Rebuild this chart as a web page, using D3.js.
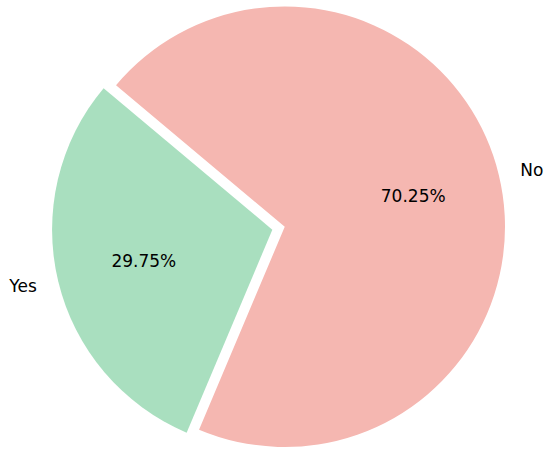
<!DOCTYPE html>
<html>
<head>
<meta charset="utf-8">
<script src="https://cdn.jsdelivr.net/npm/d3@7"></script>
<style>
  html, body { margin: 0; padding: 0; background: #ffffff; }
  svg { display: block; }
</style>
</head>
<body>
<div id="chart"></div>
<script>
// Data
const categories = ["No", "Yes"];
const values = [70.25, 29.75];
const colors = ["#F5B7B1", "#A9DFBF"];
const explode = [0, 0.058];

const width = 550, height = 456;
const cx = 284.75, cy = 226.75, radius = 220.25;
const startDeg = -50; // d3 angle (0 = 12 o'clock, clockwise)

const svg = d3.select("#chart").append("svg")
  .attr("width", width).attr("height", height);

const pie = d3.pie().sort(null).value(d => d.value)
  .startAngle(startDeg * Math.PI / 180)
  .endAngle(startDeg * Math.PI / 180 + 2 * Math.PI);

const data = categories.map((c, i) => ({ label: c, value: values[i], color: colors[i], explode: explode[i] }));
const arcs = pie(data);
const total = d3.sum(values);

const arc = d3.arc().innerRadius(0).outerRadius(radius);

const g = svg.append("g").attr("transform", `translate(${cx},${cy})`);

arcs.forEach(a => {
  const mid = (a.startAngle + a.endAngle) / 2;
  const d = a.data.explode * radius;
  const ox = Math.sin(mid) * d, oy = -Math.cos(mid) * d;
  const sg = g.append("g").attr("transform", `translate(${ox},${oy})`);
  sg.append("path").attr("d", arc(a)).attr("fill", a.data.color);

  // outer label at 1.1 r
  const lx = Math.sin(mid) * radius * 1.1, ly = -Math.cos(mid) * radius * 1.1;
  sg.append("text")
    .attr("x", lx).attr("y", ly)
    .attr("text-anchor", lx < 0 ? "end" : "start")
    .attr("dominant-baseline", "central")
    .attr("font-family", "DejaVu Sans")
    .attr("font-size", 17)
    .attr("fill", "#000")
    .text(a.data.label);

  // percentage at 0.6 r
  const px = Math.sin(mid) * radius * 0.6, py = -Math.cos(mid) * radius * 0.6;
  sg.append("text")
    .attr("x", px).attr("y", py)
    .attr("text-anchor", "middle")
    .attr("dominant-baseline", "central")
    .attr("font-family", "DejaVu Sans")
    .attr("font-size", 17)
    .attr("fill", "#000")
    .text((a.data.value / total * 100).toFixed(2) + "%");
});
</script>
</body>
</html>
